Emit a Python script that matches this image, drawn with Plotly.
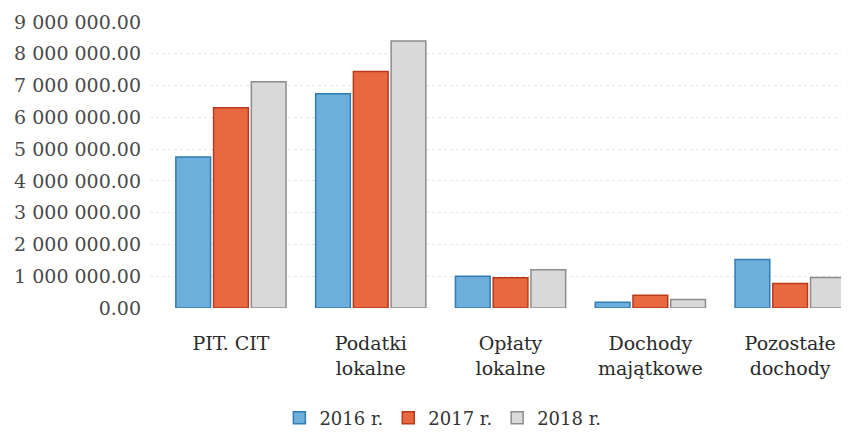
import plotly.graph_objects as go

categories = ["PIT. CIT", "Podatki<br>lokalne", "Opłaty<br>lokalne", "Dochody<br>majątkowe", "Pozostałe<br>dochody"]
series_names = ["2016 r.", "2017 r.", "2018 r."]
values_2016 = [4750000, 6740000, 1000000, 180000, 1530000]
values_2017 = [6300000, 7440000, 950000, 400000, 770000]
values_2018 = [7120000, 8400000, 1200000, 270000, 960000]
y_ticks = [0, 1000000, 2000000, 3000000, 4000000, 5000000, 6000000, 7000000, 8000000, 9000000]
y_tick_labels = ["0.00", "1 000 000.00", "2 000 000.00", "3 000 000.00", "4 000 000.00",
                 "5 000 000.00", "6 000 000.00", "7 000 000.00", "8 000 000.00", "9 000 000.00"]

fills = ["#6eaedb", "#e8693f", "#d9d9d9"]
edges = ["#2f7db3", "#b8391c", "#8c8c8c"]

fig = go.Figure()
for name, vals, fc, ec in zip(series_names, [values_2016, values_2017, values_2018], fills, edges):
    fig.add_trace(go.Bar(
        x=categories, y=vals, name=name,
        marker=dict(color=fc, line=dict(color=ec, width=1.5)),
    ))

font_family = "DejaVu Serif"
fig.update_layout(
    width=841, height=428,
    margin=dict(l=142, r=0, t=14, b=128, autoexpand=False),
    paper_bgcolor="white", plot_bgcolor="white",
    barmode="group", bargap=0.19, bargroupgap=0.08,
    font=dict(family=font_family, size=19, color="#333333"),
    showlegend=True,
    legend=dict(orientation="h", x=0.419, xanchor="center", y=-0.385, yanchor="middle",
                font=dict(family=font_family, size=18, color="#333333"),
                itemwidth=30, traceorder="normal"),
    xaxis=dict(range=[-0.579, 4.421], showline=False, ticks="", showgrid=False,
               automargin=False,
               tickfont=dict(family=font_family, size=19, color="#2a2a2a"),
               ticklabelstandoff=22),
    yaxis=dict(range=[0, 9000000], tickvals=y_ticks, ticktext=y_tick_labels,
               showline=False, ticks="", zeroline=False, automargin=False,
               showgrid=True, gridcolor="#e6e6e6", griddash="dot", gridwidth=1,
               tickfont=dict(family=font_family, size=19, color="#4a4a4a"),
               ticklabelstandoff=8),
)

fig.write_html("out.html")
